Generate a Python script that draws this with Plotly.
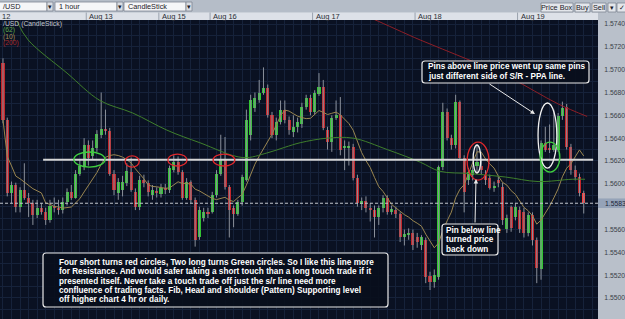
import plotly.graph_objects as go
import pandas as pd

# ---------------- data (hourly candles) ----------------
opens = [1.5706,1.5656,1.5592,1.5599,1.5580,1.5595,1.5588,1.5583,1.5573,1.5579,
         1.5575,1.5568,1.5581,1.5579,1.5577,1.5584,1.5593,1.5588,1.5609,1.5615,
         1.5634,1.5624,1.5631,1.5643,1.5648,1.5646,1.5609,1.5592,1.5595,1.5601,
         1.5610,1.5593,1.5580,1.5603,1.5601,1.5590,1.5594,1.5591,1.5596,1.5595,
         1.5612,1.5619,1.5610,1.5588,1.5602,1.5586,1.5553,1.5570,1.5575,1.5575,
         1.5590,1.5609,1.5621,1.5597,1.5579,1.5574,1.5584,1.5603,1.5643,1.5666,
         1.5673,1.5680,1.5684,1.5660,1.5643,1.5654,1.5665,1.5656,1.5645,1.5650,
         1.5652,1.5667,1.5675,1.5663,1.5679,1.5685,1.5647,1.5637,1.5658,1.5660,
         1.5631,1.5631,1.5632,1.5605,1.5582,1.5585,1.5579,1.5577,1.5571,1.5579,
         1.5588,1.5575,1.5577,1.5574,1.5553,1.5555,1.5557,1.5553,1.5546,1.5551,
         1.5519,1.5514,1.5518,1.5615,1.5663,1.5640,1.5634,1.5672,1.5623,1.5603,
         1.5608,1.5616,1.5616,1.5608,1.5605,1.5596,1.5603,1.5597,1.5560,1.5580,
         1.5571,1.5577,1.5575,1.5557,1.5573,1.5551,1.5525,1.5636,1.5631,1.5630,
         1.5630,1.5659,1.5667,1.5632,1.5612,1.5606,1.5592]
closes = [1.5656,1.5592,1.5599,1.5580,1.5595,1.5588,1.5583,1.5573,1.5579,1.5575,
          1.5568,1.5581,1.5579,1.5577,1.5584,1.5593,1.5588,1.5609,1.5616,1.5634,
          1.5623,1.5631,1.5644,1.5648,1.5646,1.5609,1.5595,1.5602,1.5602,1.5611,
          1.5595,1.5580,1.5603,1.5601,1.5593,1.5595,1.5592,1.5596,1.5595,1.5614,
          1.5619,1.5610,1.5588,1.5602,1.5586,1.5551,1.5577,1.5575,1.5574,1.5590,
          1.5609,1.5621,1.5597,1.5577,1.5574,1.5584,1.5606,1.5656,1.5673,1.5675,
          1.5680,1.5684,1.5660,1.5643,1.5654,1.5665,1.5656,1.5647,1.5650,1.5654,
          1.5667,1.5675,1.5663,1.5680,1.5685,1.5649,1.5637,1.5658,1.5660,1.5630,
          1.5633,1.5633,1.5605,1.5583,1.5585,1.5579,1.5577,1.5571,1.5579,1.5588,
          1.5575,1.5578,1.5574,1.5553,1.5556,1.5557,1.5546,1.5549,1.5553,1.5518,
          1.5514,1.5520,1.5615,1.5663,1.5640,1.5634,1.5672,1.5623,1.5593,1.5610,
          1.5612,1.5619,1.5612,1.5603,1.5596,1.5598,1.5601,1.5568,1.5570,1.5561,
          1.5580,1.5560,1.5557,1.5573,1.5551,1.5526,1.5636,1.5630,1.5630,1.5634,
          1.5659,1.5666,1.5632,1.5612,1.5606,1.5592,1.5583]
highs = [1.5710,1.5658,1.5602,1.5601,1.5597,1.5618,1.5592,1.5586,1.5586,1.5583,
         1.5579,1.5586,1.5588,1.5586,1.5588,1.5596,1.5599,1.5612,1.5621,1.5640,
         1.5638,1.5638,1.5647,1.5680,1.5665,1.5649,1.5612,1.5605,1.5607,1.5618,
         1.5623,1.5596,1.5607,1.5608,1.5603,1.5599,1.5597,1.5600,1.5600,1.5616,
         1.5625,1.5624,1.5612,1.5605,1.5603,1.5588,1.5580,1.5579,1.5579,1.5593,
         1.5612,1.5643,1.5641,1.5599,1.5581,1.5586,1.5608,1.5665,1.5678,1.5680,
         1.5691,1.5702,1.5687,1.5663,1.5658,1.5673,1.5673,1.5659,1.5660,1.5658,
         1.5671,1.5678,1.5678,1.5682,1.5697,1.5691,1.5650,1.5660,1.5673,1.5676,
         1.5638,1.5637,1.5635,1.5608,1.5588,1.5589,1.5583,1.5581,1.5581,1.5590,
         1.5590,1.5581,1.5580,1.5575,1.5560,1.5561,1.5560,1.5557,1.5555,1.5553,
         1.5523,1.5525,1.5616,1.5671,1.5666,1.5643,1.5678,1.5673,1.5625,1.5614,
         1.5616,1.5634,1.5621,1.5612,1.5608,1.5602,1.5607,1.5601,1.5573,1.5581,
         1.5583,1.5580,1.5579,1.5575,1.5575,1.5553,1.5638,1.5650,1.5652,1.5665,
         1.5662,1.5672,1.5670,1.5635,1.5616,1.5609,1.5594]
lows = [1.5653,1.5589,1.5583,1.5575,1.5575,1.5586,1.5571,1.5564,1.5570,1.5573,
        1.5564,1.5566,1.5575,1.5573,1.5574,1.5581,1.5586,1.5587,1.5607,1.5612,
        1.5616,1.5621,1.5628,1.5640,1.5643,1.5607,1.5590,1.5586,1.5589,1.5598,
        1.5593,1.5577,1.5577,1.5597,1.5589,1.5586,1.5588,1.5588,1.5591,1.5592,
        1.5610,1.5608,1.5586,1.5586,1.5583,1.5545,1.5551,1.5567,1.5570,1.5574,
        1.5588,1.5607,1.5595,1.5553,1.5562,1.5572,1.5581,1.5602,1.5638,1.5663,
        1.5671,1.5678,1.5658,1.5640,1.5638,1.5652,1.5653,1.5643,1.5641,1.5645,
        1.5649,1.5665,1.5660,1.5661,1.5677,1.5647,1.5630,1.5628,1.5656,1.5625,
        1.5612,1.5616,1.5603,1.5580,1.5577,1.5575,1.5567,1.5553,1.5564,1.5575,
        1.5573,1.5573,1.5570,1.5549,1.5546,1.5551,1.5542,1.5544,1.5542,1.5513,
        1.5507,1.5509,1.5516,1.5612,1.5638,1.5630,1.5631,1.5621,1.5575,1.5599,
        1.5603,1.5610,1.5608,1.5599,1.5595,1.5593,1.5597,1.5564,1.5557,1.5558,
        1.5568,1.5557,1.5553,1.5554,1.5546,1.5513,1.5516,1.5628,1.5627,1.5628,
        1.5628,1.5656,1.5630,1.5608,1.5603,1.5589,1.5574]

# moving averages (62 and 200 periods)
ma62_x = [3.3, 5.9, 15, 22.7, 30.4, 38.4, 46.1, 56.2, 61.8, 66, 69.6, 75.9, 82, 90,
          97.7, 102.3, 109.4, 117.6, 125.3, 133.3, 136.3]
ma62_y = [1.5742, 1.5726, 1.5697, 1.5673, 1.5662, 1.5647, 1.5636, 1.5623, 1.5627, 1.5632,
          1.5636, 1.5640, 1.5640, 1.5630, 1.5619, 1.5611, 1.5609, 1.5606, 1.5602, 1.5604, 1.5604]
ma200_x = [83.6, 86.9, 97.7, 108.2, 118.7, 130.0, 136.8]
ma200_y = [1.5749, 1.5744, 1.5726, 1.5710, 1.5693, 1.5670, 1.5659]

day_labels = ["Aug 13", "Aug 15", "Aug 16", "Aug 17", "Aug 18", "Aug 19"]
day_starts = [19.5, 36.5, 48.5, 72.5, 96.5, 120.5]

sr_level = 1.5621
# 1.5580 is hidden behind the current-price label in the original
price_ticks = [1.5740, 1.5720, 1.5700, 1.5680, 1.5660, 1.5640, 1.5620,
               1.5600, 1.5560, 1.5540, 1.5520, 1.5500]

# circles drawn on the chart: (x0, x1, y0, y1, colour)
circles = [
    (16.6, 23.9, 1.56147, 1.56279, "#3fcf3f"),
    (28.6, 31.9, 1.56147, 1.56244, "#e0282c"),
    (38.6, 43.1, 1.56156, 1.56261, "#e0282c"),
    (49.2, 54.3, 1.56156, 1.56261, "#e0282c"),
    (108.7, 113.8, 1.56033, 1.56366, "#e0282c"),
    (110.1, 111.9, 1.56095, 1.56340, "#f0f0f0"),
    (125.3, 129.7, 1.56138, 1.56708, "#f0f0f0"),
    (125.8, 130.4, 1.56103, 1.56366, "#3fcf3f"),
]

note_top = ["Pins above line price went up same pins",
            "just different side of S/R - PPA line."]
note_bottom = ["Four short turns red circles, Two long turns Green circles. So I like this line more",
               "for Resistance. And would safer taking a short touch than a long touch trade if it",
               "presented itself. Never take a touch trade off just the s/r line need more",
               "confluence of trading facts. Fib, Head and shoulder (Pattern) Supporting level",
               "off higher chart 4 hr or daily."]
note_pin = ["Pin below line", "turned price", "back down"]

# ---------------- figure ----------------
W, H = 625, 319
PL, PR, PT = 0, 598, 20


def fx(px):
    return (px - PL) / (PR - PL)


def fy(py):
    return (H - py) / (H - PT)


n = len(closes)
idx = list(range(n))

fig = go.Figure()

# wicks
wx, wy = [], []
for i, (h, l) in enumerate(zip(highs, lows)):
    wx += [i, i, None]
    wy += [l, h, None]
fig.add_trace(go.Scatter(x=wx, y=wy, mode="lines", line=dict(color="#8a909a", width=1),
                         hoverinfo="skip", showlegend=False))

# bodies
base = [min(o, c) for o, c in zip(opens, closes)]
height = [max(abs(c - o), 0.00009) for o, c in zip(opens, closes)]
colors = ["#33c433" if c > o else "#c4262b" for o, c in zip(opens, closes)]
colors[-1] = "#ff3a3a"
fig.add_trace(go.Bar(x=idx, y=height, base=base, width=0.72,
                     marker=dict(color=colors, line=dict(width=0)),
                     showlegend=False, hoverinfo="skip"))

# moving averages
ma10 = pd.Series(closes).rolling(10, min_periods=1).mean()
fig.add_trace(go.Scatter(x=idx, y=ma10, mode="lines", line=dict(color="#9a8650", width=1),
                         showlegend=False, hoverinfo="skip"))
fig.add_trace(go.Scatter(x=ma62_x, y=ma62_y, mode="lines", line=dict(color="#3f7f2c", width=1, shape="spline"),
                         showlegend=False, hoverinfo="skip"))
fig.add_trace(go.Scatter(x=ma200_x, y=ma200_y, mode="lines", line=dict(color="#8e1e26", width=1, shape="spline"),
                         showlegend=False, hoverinfo="skip"))

shapes = []
annotations = []

# toolbar and date row
shapes.append(dict(type="rect", xref="paper", yref="paper", x0=fx(0), x1=fx(W), y0=fy(12), y1=fy(0),
                   fillcolor="#b5bdc8", line=dict(width=0), layer="below"))
shapes.append(dict(type="rect", xref="paper", yref="paper", x0=fx(0), x1=fx(598), y0=fy(20), y1=fy(12.5),
                   fillcolor="#dde1e8", line=dict(width=0), layer="below"))


def tool_box(x0, x1, y0, y1, fill, text, tx=None, size=7.3, anchor="left"):
    shapes.append(dict(type="rect", xref="paper", yref="paper", x0=fx(x0), x1=fx(x1), y0=fy(y1), y1=fy(y0),
                       fillcolor=fill, line=dict(color="#7d8592", width=0.8)))
    if text:
        annotations.append(dict(xref="paper", yref="paper",
                                x=fx(tx if tx is not None else (x0 + x1) / 2), y=fy((y0 + y1) / 2),
                                text=text, showarrow=False, xanchor=anchor, yanchor="middle",
                                font=dict(family="Liberation Sans", size=size, color="#1c2028")))


tool_box(-2, 47, 2, 11, "#f5f6f8", "/USD", tx=0.5)
tool_box(47, 53, 2, 11, "#d9dde3", "▾", anchor="center", size=7)
tool_box(55, 117, 2, 11, "#f5f6f8", "1 hour", tx=57)
tool_box(117, 123, 2, 11, "#d9dde3", "▾", anchor="center", size=7)
tool_box(124, 186, 2, 11, "#f5f6f8", "CandleStick", tx=126)
tool_box(186, 192, 2, 11, "#d9dde3", "▾", anchor="center", size=7)
tool_box(541, 573, 3, 12, "#e3e6eb", "Price Box", anchor="center")
tool_box(575, 590, 3, 12, "#e3e6eb", "Buy", anchor="center")
tool_box(592, 606, 3, 12, "#e3e6eb", "Sell", anchor="center")
tool_box(608, 616, 3, 12, "#e3e6eb", "▾", anchor="center", size=7)
tool_box(617, 626, 3, 12, "#e3e6eb", "✓", anchor="center", size=6.5)

annotations.append(dict(xref="paper", yref="paper", x=fx(0), y=fy(16.5), text="12", showarrow=False,
                        xanchor="left", yanchor="middle",
                        font=dict(family="Liberation Sans", size=7.5, color="#2a2e36")))
for lab, pos in zip(day_labels, day_starts):
    shapes.append(dict(type="line", xref="x", yref="paper", x0=pos, x1=pos, y0=fy(20), y1=fy(12.5),
                       line=dict(color="#9aa2ae", width=1)))
    annotations.append(dict(xref="x", yref="paper", x=pos, y=fy(16.5), text=lab, showarrow=False,
                            xanchor="left", yanchor="middle", xshift=1,
                            font=dict(family="Liberation Sans", size=7.5, color="#2a2e36")))

# legend labels (top-left)
for txt, col, py in [("/USD (CandleStick)", "#c3c7cf", 24), ("(62)", "#5ca64a", 30.5),
                     ("(10)", "#a48d55", 37), ("(200)", "#a42a2e", 43.5)]:
    annotations.append(dict(xref="paper", yref="paper", x=fx(1), y=fy(py), text=txt, showarrow=False,
                            xanchor="left", yanchor="middle",
                            font=dict(family="Liberation Sans", size=6.8, color=col)))

# S/R line and current price line
shapes.append(dict(type="line", xref="x", yref="y", x0=9.4, x1=138.2, y0=sr_level, y1=sr_level,
                   line=dict(color="#d6d6d6", width=2)))
shapes.append(dict(type="line", xref="paper", yref="y", x0=0, x1=1, y0=closes[-1], y1=closes[-1],
                   line=dict(color="#c2c6cc", width=1, dash="3px,2px")))

# price label on axis
shapes.append(dict(type="rect", xref="paper", yref="y", x0=1, x1=fx(W),
                   y0=closes[-1] - 0.00042, y1=closes[-1] + 0.00042,
                   fillcolor="#95a3b8", line=dict(width=0)))
annotations.append(dict(xref="paper", yref="y", x=fx(603), y=closes[-1], text=f"{closes[-1]:.4f}",
                        showarrow=False, xanchor="left", yanchor="middle",
                        font=dict(family="Liberation Sans", size=6.8, color="#1b2638")))

# circles
for x0, x1, y0, y1, col in circles:
    shapes.append(dict(type="circle", xref="x", yref="y", x0=x0, x1=x1, y0=y0, y1=y1,
                       line=dict(color=col, width=1.3)))


def rrect(x0, y0, x1, y1, r=3):
    pts = [("M", x0 + r, y0), ("L", x1 - r, y0), ("Q", x1, y0, x1, y0 + r), ("L", x1, y1 - r),
           ("Q", x1, y1, x1 - r, y1), ("L", x0 + r, y1), ("Q", x0, y1, x0, y1 - r),
           ("L", x0, y0 + r), ("Q", x0, y0, x0 + r, y0)]
    out = []
    for p in pts:
        cmd = p[0]
        coords = p[1:]
        pairs = [f"{fx(coords[k]):.5f},{fy(coords[k + 1]):.5f}" for k in range(0, len(coords), 2)]
        out.append(cmd + " " + " ".join(pairs))
    return " ".join(out) + " Z"


def note(lines, x0, y0, x1, y1, tx, ty0, pitch):
    shapes.append(dict(type="path", xref="paper", yref="paper", path=rrect(x0, y0, x1, y1),
                       fillcolor="rgba(8,14,28,0.9)", line=dict(color="#e8e8e8", width=1.2)))
    for k, t in enumerate(lines):
        annotations.append(dict(xref="paper", yref="paper", x=fx(tx), y=fy(ty0 + k * pitch), text=t,
                                showarrow=False, xanchor="left", yanchor="middle",
                                font=dict(family="Liberation Sans", size=8.2, color="#ffffff",
                                          weight="bold")))


note(note_top, 422, 61, 589, 83, 426, 66.5, 10)
note(note_bottom, 43, 253, 388, 307, 57, 262.5, 9.3)
note(note_pin, 442, 224, 498, 255, 444, 230.5, 9.4)

# arrows
annotations.append(dict(xref="paper", yref="paper", x=fx(535), y=fy(114), ax=-47, ay=-31,
                        showarrow=True, arrowhead=2, arrowsize=0.9, arrowwidth=1, arrowcolor="#e8e8e8",
                        text=""))
annotations.append(dict(xref="paper", yref="paper", x=fx(476), y=fy(179), ax=-1, ay=45,
                        showarrow=True, arrowhead=2, arrowsize=0.9, arrowwidth=1, arrowcolor="#e8e8e8",
                        text=""))

fig.update_layout(
    width=W, height=H,
    margin=dict(l=PL, r=W - PR, t=PT, b=0),
    paper_bgcolor="#b9c0ca",
    plot_bgcolor="#0a1122",
    showlegend=False,
    bargap=0,
    shapes=shapes,
    annotations=annotations,
    xaxis=dict(range=[-0.70, 139.34], showticklabels=False, zeroline=False,
               showgrid=True, gridcolor="#16223a", gridwidth=1, dtick=2, tick0=0,
               fixedrange=True),
    yaxis=dict(range=[1.54816, 1.57435], side="right", tickvals=price_ticks,
               ticktext=[f"{v:.4f}" for v in price_ticks],
               ticks="outside", ticklen=4, tickcolor="rgba(0,0,0,0)",
               tickfont=dict(family="Liberation Sans", size=6.8, color="#3b4049"),
               showgrid=True, gridcolor="#16223a", gridwidth=1, zeroline=False,
               minor=dict(dtick=0.001, showgrid=True, gridcolor="#16223a"),
               fixedrange=True),
)

fig.write_html("out.html", config={"displayModeBar": False})
